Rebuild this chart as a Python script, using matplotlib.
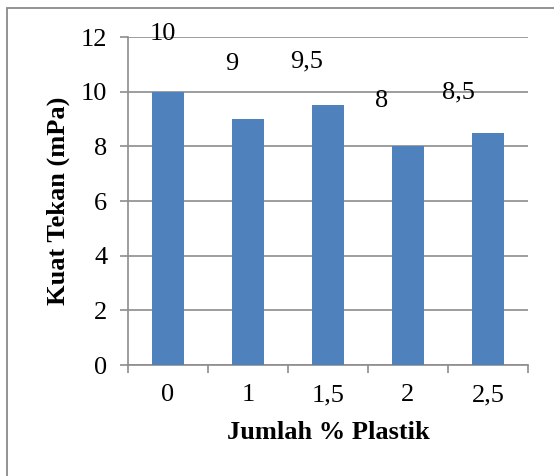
import matplotlib.pyplot as plt
from matplotlib.patches import Rectangle
import numpy as np

categories = ["0", "1", "1,5", "2", "2,5"]
values = [10, 9, 9.5, 8, 8.5]
value_labels = ["10", "9", "9,5", "8", "8,5"]
yticks = [0, 2, 4, 6, 8, 10, 12]

# data labels sit above the bars, drifting left (as in the original sheet)
label_dx = [-0.06, -0.2, -0.27, -0.33, -0.37]
label_dy = [1.89, 1.79, 1.37, 1.44, 1.27]

plt.rcParams["font.family"] = ["Liberation Serif", "DejaVu Serif"]
grey = "#8c8c8c"
fs = 19

fig = plt.figure(figsize=(5.54, 4.76), dpi=100)
ax = fig.add_axes([128 / 554, 1 - 365 / 476, 400 / 554, 328 / 476])

x = np.arange(len(categories))
ax.bar(x, values, width=0.4, color="#4F81BD", zorder=3)

for i, (v, t) in enumerate(zip(values, value_labels)):
    ax.text(x[i] + label_dx[i], v + label_dy[i], t, ha="center", va="baseline",
            fontsize=fs, zorder=4)

ax.set_xlim(-0.5, len(categories) - 0.5)
ax.set_ylim(0, 12)
ax.set_yticks(yticks)
ax.set_yticklabels([str(t) for t in yticks])
ax.yaxis.grid(True, color=grey, linewidth=1.2, zorder=0)

ax.set_xticks(x)
ax.set_xticklabels(categories)
ax.set_xticks(np.arange(len(categories) + 1) - 0.5, minor=True)
ax.tick_params(axis="x", which="major", length=0, pad=14, labelsize=fs)
ax.tick_params(axis="x", which="minor", length=6, width=1.2, color=grey)
ax.tick_params(axis="y", length=6, width=1.2, color=grey, pad=9, labelsize=fs)

for s in ["top", "right"]:
    ax.spines[s].set_visible(False)
for s in ["left", "bottom"]:
    ax.spines[s].set_color(grey)
    ax.spines[s].set_linewidth(1.2)

ax.set_ylabel("Kuat Tekan (mPa)", fontsize=fs, fontweight="bold")
ax.yaxis.set_label_coords(-0.145, 0.5)
ax.set_xlabel("Jumlah % Plastik", fontsize=fs, fontweight="bold")
ax.xaxis.set_label_coords(0.5, -0.172)

# chart frame (cut off at the right and bottom in the original)
fig.patches.append(Rectangle((6.5 / 554, -0.05), 1.1, 0.05 + (476 - 7.5) / 476,
                             transform=fig.transFigure, fill=False,
                             edgecolor="#8a8a8a", linewidth=1.3, clip_on=False))

fig.savefig("out.png", dpi=100)
